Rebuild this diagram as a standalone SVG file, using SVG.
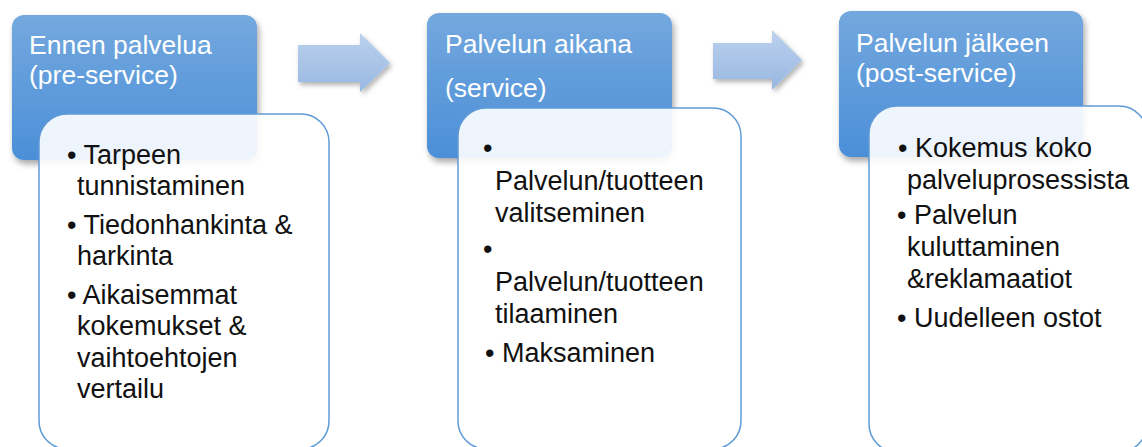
<svg xmlns="http://www.w3.org/2000/svg" width="1142" height="447" viewBox="0 0 1142 447">
<defs>
<linearGradient id="gBlue" x1="0" y1="0" x2="0" y2="1">
<stop offset="0" stop-color="#74a8de"/>
<stop offset="1" stop-color="#4b8fd8"/>
</linearGradient>
<linearGradient id="gArrow" x1="0" y1="0" x2="0" y2="1">
<stop offset="0" stop-color="#bcd2ee"/>
<stop offset="1" stop-color="#98b7e1"/>
</linearGradient>
<filter id="shadow" x="-10%" y="-10%" width="130%" height="130%">
<feDropShadow dx="2" dy="4" stdDeviation="3" flood-color="#000" flood-opacity="0.35"/>
</filter>
<filter id="ashadow" x="-10%" y="-20%" width="130%" height="150%">
<feDropShadow dx="2" dy="3" stdDeviation="2.5" flood-color="#000" flood-opacity="0.3"/>
</filter>
</defs>
<style>
.head{fill:url(#gBlue);filter:url(#shadow)}
.card{fill:#ffffff;fill-opacity:0.9;stroke:#5f9ad6;stroke-width:1.5}
.ht{font-family:"Liberation Sans",Arial,sans-serif;font-size:26.5px;fill:#ffffff}
.bt{font-family:"Liberation Sans",Arial,sans-serif;font-size:27px;fill:#111111}
.arrow{fill:url(#gArrow);filter:url(#ashadow)}
</style>
<rect width="1142" height="447" fill="#ffffff"/>
<g id="connectors">
<path class="arrow" d="M298,45 H360 V33 L390,63 L360,92 V82 H298 Z"/>
<path class="arrow" d="M713,43 H772 V30 L802,60 L772,90 V79 H713 Z"/>
</g>
<g id="stage1">
<g id="stage1-head">
<rect class="head" x="12" y="15" width="245" height="145" rx="12"/>
<text class="ht" x="29" y="54">Ennen palvelua</text>
<text class="ht" x="29" y="84">(pre-service)</text>
</g>
<g id="stage1-items">
<rect class="card" x="39" y="114" width="290" height="335" rx="28"/>
<text class="bt" x="67" y="164">• Tarpeen</text>
<text class="bt" x="77" y="195">tunnistaminen</text>
<text class="bt" x="67" y="234">• Tiedonhankinta &amp;</text>
<text class="bt" x="77" y="265">harkinta</text>
<text class="bt" x="67" y="304">• Aikaisemmat</text>
<text class="bt" x="77" y="335">kokemukset &amp;</text>
<text class="bt" x="77" y="367">vaihtoehtojen</text>
<text class="bt" x="77" y="398">vertailu</text>
</g>
</g>
<g id="stage2">
<g id="stage2-head">
<rect class="head" x="427" y="13" width="245" height="145" rx="12"/>
<text class="ht" x="445" y="53">Palvelun aikana</text>
<text class="ht" x="445" y="97">(service)</text>
</g>
<g id="stage2-items">
<rect class="card" x="458" y="108" width="283" height="341" rx="28"/>
<text class="bt" x="483" y="157">•</text>
<text class="bt" x="495" y="190">Palvelun/tuotteen</text>
<text class="bt" x="495" y="222">valitseminen</text>
<text class="bt" x="483" y="258">•</text>
<text class="bt" x="495" y="291">Palvelun/tuotteen</text>
<text class="bt" x="495" y="323">tilaaminen</text>
<text class="bt" x="485" y="362">• Maksaminen</text>
</g>
</g>
<g id="stage3">
<g id="stage3-head">
<rect class="head" x="839" y="11" width="244" height="146" rx="12"/>
<text class="ht" x="856" y="52">Palvelun jälkeen</text>
<text class="ht" x="856" y="82">(post-service)</text>
</g>
<g id="stage3-items">
<rect class="card" x="869" y="106" width="278" height="346" rx="28"/>
<text class="bt" x="898" y="157">• Kokemus koko</text>
<text class="bt" x="907" y="189">palveluprosessista</text>
<text class="bt" x="897" y="224">• Palvelun</text>
<text class="bt" x="907" y="256">kuluttaminen</text>
<text class="bt" x="907" y="288">&amp;reklamaatiot</text>
<text class="bt" x="897" y="327">• Uudelleen ostot</text>
</g>
</g>
</svg>
